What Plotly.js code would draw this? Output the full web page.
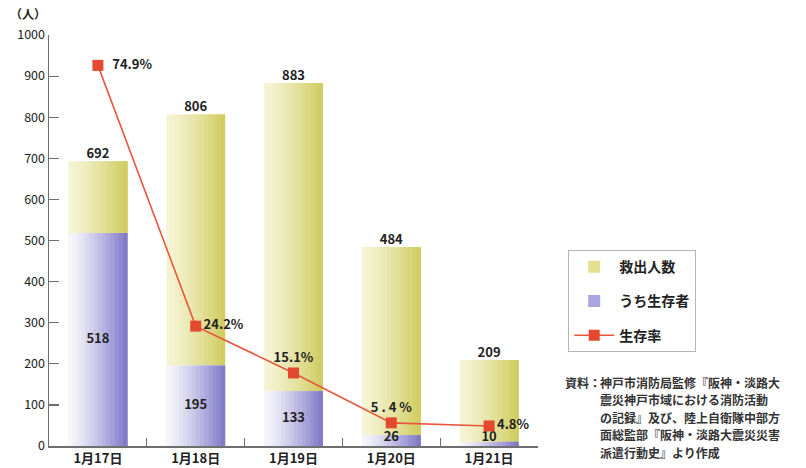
<!DOCTYPE html>
<html>
<head>
<meta charset="utf-8">
<script src="https://cdn.plot.ly/plotly-3.0.1.min.js"></script>
<style>html,body{margin:0;padding:0;background:#fff;}#chart{width:806px;height:468px;}</style>
</head>
<body>
<div id="chart"></div>
<script>
// ---- data ----
const categories = ['1月17日', '1月18日', '1月19日', '1月20日', '1月21日'];
const rescued = [692, 806, 883, 484, 209];      // 救出人数
const survivors = [518, 195, 133, 26, 10];      // うち生存者
const survivalRate = [74.9, 24.2, 15.1, 5.4, 4.8]; // 生存率 (%)
const rateLabels = ['74.9%', '24.2%', '15.1%', '5 . 4 %', '4.8%'];
const seriesNames = ['救出人数', 'うち生存者', '生存率'];
const sourceLines = ['神戸市消防局監修『阪神・淡路大', '震災神戸市域における消防活動',
  'の記録』及び、陸上自衛隊中部方', '面総監部『阪神・淡路大震災災害', '派遣行動史』より作成'];

// ---- layout helpers ----
const W = 806, H = 468;
const M = {l: 49, r: 268, t: 35, b: 22};
const PW = W - M.l - M.r, PH = H - M.t - M.b;
const px = x => (x - M.l) / PW;
const py = y => (H - M.b - y) / PH;

const FONT = '"Noto Sans CJK JP", "Noto Sans", sans-serif';
const BW = 0.6, N = 14;

function hex(c){return [parseInt(c.slice(1,3),16),parseInt(c.slice(3,5),16),parseInt(c.slice(5,7),16)];}
function lerp(a,b,t){const A=hex(a),B=hex(b);return 'rgb('+A.map((v,i)=>Math.round(v+(B[i]-v)*t)).join(',')+')';}

const traces = [];
function gradientBars(values, c0, c1, name, group, legendColor){
  for(let i=0;i<N;i++){
    const f = i/N;
    const t = Math.pow((i+0.5)/N, 1.3);
    traces.push({
      type:'bar', x:categories, y:values,
      offset: -BW/2 + BW*f, width: BW*(1-f),
      marker:{color: lerp(c0,c1,t), line:{width:0}},
      name:name, legendgroup:group, showlegend:false, hoverinfo:'skip'
    });
  }
  traces.push({type:'bar', x:[null], y:[null], name:name, legendgroup:group,
    marker:{color:legendColor}, showlegend:true});
}
gradientBars(rescued, '#f6f4d6', '#cfcb5c', seriesNames[0], 'g1', '#e3e08f');
gradientBars(survivors, '#f7f7fc', '#7c75c6', seriesNames[1], 'g2', '#aaa5df');

// value labels
traces.push({type:'scatter', mode:'text', x:categories, y:rescued, text:rescued.map(String),
  textposition:'top center', textfont:{family:FONT, size:13, color:'#222', weight:'bold'},
  showlegend:false, hoverinfo:'skip', cliponaxis:false});
traces.push({type:'scatter', mode:'text', x:categories, y:survivors.map(v=>Math.max(v/2, 20)),
  text:survivors.map(String), textposition:'middle center',
  textfont:{family:FONT, size:13, color:'#222', weight:'bold'},
  showlegend:false, hoverinfo:'skip', cliponaxis:false});

// survival rate line
traces.push({type:'scatter', mode:'lines+markers+text', x:categories, y:survivalRate, yaxis:'y3',
  name:seriesNames[2], legendgroup:'g3',
  line:{color:'#e8573d', width:1.6},
  marker:{symbol:'square', size:11, color:'#e2492f'},
  text:rateLabels.map((t,i)=> i===0 ? '\u2002'+t : t),
  textposition:['middle right','middle right','top center','top center','middle right'],
  textfont:{family:FONT, size:13, color:'#222', weight:'bold'},
  cliponaxis:false});

const axisLine = '#6f6f6f';
const layout = {
  width:W, height:H, margin:M,
  paper_bgcolor:'#fff', plot_bgcolor:'#fff',
  barmode:'overlay', bargap:0.4,
  font:{family:FONT, color:'#222'},
  xaxis:{type:'category', range:[-0.5,4.5], showline:true, linecolor:axisLine, linewidth:1.5,
    ticks:'inside', ticklen:8, tickcolor:axisLine, tickwidth:1.2, tickson:'boundaries',
    showgrid:false, zeroline:false, mirror:false,
    tickfont:{family:FONT, size:13, color:'#222', weight:'bold'}},
  yaxis:{range:[0,1000], dtick:100, showline:true, linecolor:axisLine, linewidth:1.5,
    ticks:'inside', ticklen:10, tickcolor:axisLine, tickwidth:1.2,
    showgrid:false, zeroline:false,
    tickfont:{family:FONT, size:12.5, color:'#222'}},
  yaxis2:{overlaying:'y', side:'right', range:[0,80], dtick:10, showline:true,
    linecolor:axisLine, linewidth:1.5, ticks:'inside', ticklen:8, tickcolor:axisLine, tickwidth:1.2,
    showticklabels:false, showgrid:false, zeroline:false},
  yaxis3:{overlaying:'y', side:'right', range:[0.9,80.8], visible:false},
  legend:{x:px(568), y:py(250), xanchor:'left', yanchor:'top',
    bordercolor:'#b5b5b5', borderwidth:1.2, bgcolor:'#fff',
    font:{family:FONT, size:14, color:'#222', weight:'bold'},
    traceorder:'grouped', tracegroupgap:13, itemwidth:40},
  annotations:[
    {xref:'paper', yref:'paper', x:px(8), y:py(13), xanchor:'left', yanchor:'middle',
     text:'（人）', showarrow:false, font:{family:FONT, size:12, color:'#222', weight:'bold'}},
    {xref:'paper', yref:'paper', x:px(563), y:py(382), xanchor:'left', yanchor:'middle',
     text:'資料：', showarrow:false, font:{family:FONT, size:12, color:'#333', weight:'bold'}}
  ].concat(sourceLines.map((s,i)=>({xref:'paper', yref:'paper', x:px(598), y:py(382+17.5*i),
     xanchor:'left', yanchor:'middle', text:s, showarrow:false,
     font:{family:FONT, size:12, color:'#333', weight:'bold'}})))
};
Plotly.newPlot('chart', traces, layout, {displayModeBar:false, staticPlot:true});
</script>
</body>
</html>
